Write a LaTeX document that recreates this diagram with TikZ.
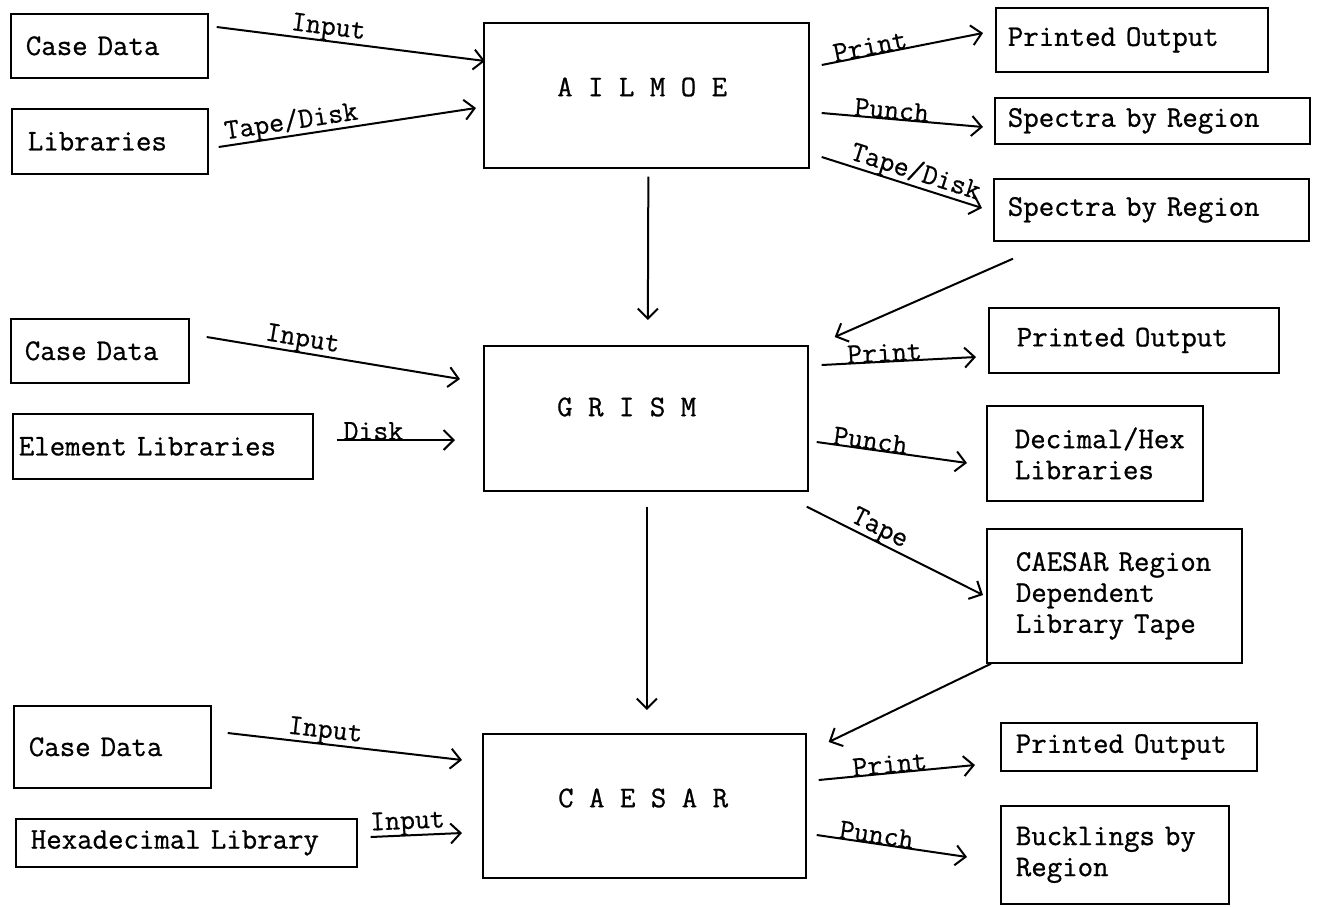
\documentclass[tikz,border=0pt]{standalone}
\usepackage{fontspec}
\usetikzlibrary{arrows.meta}
\newfontfamily\typefont{Latin Modern Mono}[FakeBold=0.8]
\newfontfamily\handfont{Latin Modern Mono}[FakeBold=0.6]
\newcommand\boxfont{\fontsize{30}{31}\selectfont\typefont}
\newcommand\lblfont{\fontsize{29}{30}\selectfont\handfont}
\begin{document}
\begin{tikzpicture}[x=1pt,y=-1pt,
  databox/.style={draw, line width=1.7pt, anchor=north west, align=left,
    inner ysep=0pt, font=\boxfont},
  progbox/.style={draw, line width=1.7pt, anchor=north west, inner sep=0pt},
  progname/.style={anchor=west, font=\boxfont, inner sep=0pt},
  flow/.style={line width=2pt, -{Straight Barb[length=10pt,width=20pt]}},
  lbl/.style={font=\lblfont, sloped, above=-1.5pt, inner sep=0.5pt}]
\useasboundingbox (0,0) rectangle (1331,906);

% ---- AILMOE stage ----
\node[databox, minimum width=197, minimum height=64, inner xsep=15, text width=167] (cd1) at (10,13) {\mbox{Case Data}};
\node[databox, minimum width=196, minimum height=65, inner xsep=16, text width=164] (lib1) at (11,108) {\mbox{Libraries}};
\node[progbox, minimum width=325, minimum height=145] (ailmoe) at (483,22) {};
\node[progname] (ailmoeT) at (557,87) {\mbox{A I L M O E}};
\node[databox, minimum width=272, minimum height=64, inner xsep=12, text width=248] (po1) at (995,7) {\mbox{Printed Output}};
\node[databox, minimum width=315, minimum height=46, inner xsep=13, text width=289] (sp1) at (994,97) {\mbox{Spectra by Region}};
\node[databox, minimum width=315, minimum height=62, inner xsep=14, text width=287] (sp2) at (993,178) {\mbox{Spectra by Region}};

% ---- GRISM stage ----
\node[databox, minimum width=178, minimum height=64, inner xsep=14, text width=150] (cd2) at (10,318) {\mbox{Case Data}};
\node[databox, minimum width=300, minimum height=65, inner xsep=6, text width=288] (el) at (12,413) {\mbox{Element Libraries}};
\node[progbox, minimum width=324, minimum height=145] (grism) at (483,345) {};
\node[progname] (grismT) at (557,407) {\mbox{G R I S M}};
\node[databox, minimum width=290, minimum height=65, inner xsep=28, text width=234] (po2) at (988,307) {\mbox{Printed Output}};
\node[databox, minimum width=216, minimum height=95, inner xsep=28, text width=160] (dh) at (986,405) {\mbox{Decimal/Hex}\\\mbox{Libraries}};
\node[databox, minimum width=255, minimum height=134, inner xsep=29, text width=197] (cr) at (986,528) {\mbox{CAESAR Region}\\\mbox{Dependent}\\\mbox{Library Tape}};

% ---- CAESAR stage ----
\node[databox, minimum width=197, minimum height=82, inner xsep=15, text width=167] (cd3) at (13,705) {\mbox{Case Data}};
\node[databox, minimum width=341, minimum height=48, inner xsep=15, text width=311] (hx) at (15,818) {\mbox{Hexadecimal Library}};
\node[progbox, minimum width=323, minimum height=144] (caesar) at (482,733) {};
\node[progname] (caesarT) at (558,798) {\mbox{C A E S A R}};
\node[databox, minimum width=256, minimum height=48, inner xsep=15, text width=226] (po3) at (1000,722) {\mbox{Printed Output}};
\node[databox, minimum width=228, minimum height=98, inner xsep=15, text width=198] (bk) at (1000,805) {\mbox{Bucklings by}\\\mbox{Region}};

% ---- connectors ----
\draw[flow] ([shift={(8,14)}]cd1.north east) -- node[lbl, pos=.41] {Input} ([shift={(2,39)}]ailmoe.north west);
\draw[flow] ([shift={(10,39)}]lib1.north east) -- node[lbl, pos=.29] {Tape/Disk} ([shift={(-7,86)}]ailmoe.north west);
\draw[flow] ([shift={(12,43)}]ailmoe.north east) -- node[lbl, pos=.31] {Print} ([shift={(-12,26)}]po1.north west);
\draw[flow] ([shift={(12,91)}]ailmoe.north east) -- node[lbl, pos=.43] {Punch} ([shift={(-11,30)}]sp1.north west);
\draw[flow] ([shift={(12,135)}]ailmoe.north east) -- node[lbl, pos=.56] {Tape/Disk} ([shift={(-11,30)}]sp2.north west);
\draw[flow] ([shift={(2,8)}]ailmoe.south) -- ([shift={(2,-25)}]grism.north);
\draw[flow] ([shift={(20,17)}]sp2.south west) -- ([shift={(26,-8)}]grism.north east);

\draw[flow] ([shift={(17,19)}]cd2.north east) -- node[lbl, pos=.37] {Input} ([shift={(-23,34)}]grism.north west);
\draw[flow] ([shift={(23,27)}]el.north east) -- node[lbl, pos=.31] {Disk} ([shift={(-28,95)}]grism.north west);
\draw[flow] ([shift={(13,20)}]grism.north east) -- node[lbl, pos=.41] {Print} ([shift={(-12,50)}]po2.north west);
\draw[flow] ([shift={(8,97)}]grism.north east) -- node[lbl, pos=.35] {Punch} ([shift={(-19,58)}]dh.north west);
\draw[flow] ([shift={(-2,15)}]grism.south east) -- node[lbl, pos=.38] {Tape} ([shift={(-3,67)}]cr.north west);
\draw[flow] ([shift={(1,15)}]grism.south) -- ([shift={(2.5,-23)}]caesar.north);
\draw[flow] ([shift={(5,0)}]cr.south west) -- ([shift={(22,9)}]caesar.north east);

\draw[flow] ([shift={(16,28)}]cd3.north east) -- node[lbl, pos=.41] {Input} ([shift={(-20,27)}]caesar.north west);
\draw[flow] ([shift={(13,19)}]hx.north east) -- node[lbl, pos=.41] {Input} ([shift={(-20,100)}]caesar.north west);
\draw[flow] ([shift={(12,47)}]caesar.north east) -- node[lbl, pos=.46] {Print} ([shift={(-25,43)}]po3.north west);
\draw[flow] ([shift={(10,102)}]caesar.north east) -- node[lbl, pos=.39] {Punch} ([shift={(-33,52)}]bk.north west);
\end{tikzpicture}
\end{document}
